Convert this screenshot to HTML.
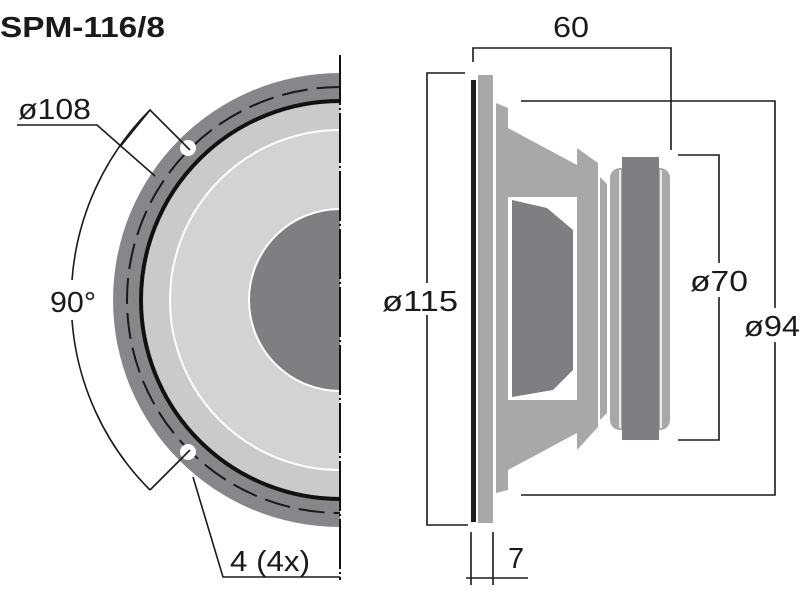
<!DOCTYPE html>
<html><head><meta charset="utf-8"><style>
html,body{margin:0;padding:0;background:#fff;}
svg{display:block;}
text{font-family:"Liberation Sans",sans-serif;fill:#1a1a1a;}
</style></head><body>
<svg width="800" height="600" viewBox="0 0 800 600" xmlns="http://www.w3.org/2000/svg">
<defs><clipPath id="lh"><rect x="0" y="0" width="340" height="600"/></clipPath></defs>
<text x="0" y="37" font-size="29" font-weight="bold" textLength="165" lengthAdjust="spacingAndGlyphs">SPM-116/8</text>
<g clip-path="url(#lh)">
<circle cx="340" cy="300" r="227" fill="#86878a"/>
<circle cx="340" cy="300" r="213" fill="none" stroke="#1a1a1a" stroke-width="2" stroke-dasharray="26,9"/>
<circle cx="340" cy="300" r="199" fill="#c9cacc" stroke="#111" stroke-width="4"/>
<circle cx="340" cy="300" r="170" fill="#d2d3d5" stroke="#fff" stroke-width="2"/>
<circle cx="340" cy="300" r="91" fill="#7e7f82" stroke="#fff" stroke-width="2"/>
</g>
<line x1="340" y1="55" x2="340" y2="580" stroke="#111" stroke-width="2" stroke-dasharray="50,3,2,3"/>
<circle cx="188" cy="148" r="8" fill="#fff"/>
<circle cx="188" cy="452" r="8" fill="#fff"/>
<g fill="none" stroke="#1a1a1a" stroke-width="1.6">
<path d="M190,150 L150,110 L120,147"/>
<path d="M190,450 L150,490"/>
<path d="M150,110 A269,269 0 0 0 72,280"/>
<path d="M72,320 A269,269 0 0 0 150,490"/>
<path d="M17,125 L97,125 L155,176"/>
<path d="M193,477 L223,577 L340,577"/>
<path d="M473,62 L473,48 L671,48 L671,150"/>
<path d="M465,73 L427,73 L427,525 L468,525"/>
<path d="M521,101 L775,101 L775,495 L521,495"/>
<path d="M678,155 L719,155 L719,440 L678,440"/>
<path d="M471,532 L471,585 M493,532 L493,585 M466,578 L528,578"/>
</g>
<text x="18" y="119" font-size="29" textLength="73" lengthAdjust="spacingAndGlyphs">ø108</text>
<text x="50" y="312" font-size="29" textLength="46" lengthAdjust="spacingAndGlyphs">90°</text>
<text x="230" y="571" font-size="29" textLength="80" lengthAdjust="spacingAndGlyphs">4 (4x)</text>
<text x="553" y="37" font-size="29" textLength="36" lengthAdjust="spacingAndGlyphs">60</text>
<rect x="380" y="283" width="82" height="32" fill="#fff"/>
<text x="382" y="311" font-size="29" textLength="76" lengthAdjust="spacingAndGlyphs">ø115</text>
<rect x="688" y="263" width="62" height="34" fill="#fff"/>
<text x="690" y="291" font-size="29" textLength="58" lengthAdjust="spacingAndGlyphs">ø70</text>
<rect x="742" y="308" width="58" height="34" fill="#fff"/>
<text x="744" y="336" font-size="29" textLength="56" lengthAdjust="spacingAndGlyphs">ø94</text>
<text x="508" y="568" font-size="29">7</text>
<rect x="471" y="80" width="5" height="442" fill="#1e1e1e"/>
<rect x="478" y="75" width="15" height="448" fill="#a7a8aa"/>
<polygon points="496,103 508,108 508,128 577,165 577,148 598,163 598,427 577,450 577,433 508,470 508,490 496,493" fill="#a7a8aa"/>
<rect x="508" y="197" width="69" height="203" fill="#fff"/>
<polygon points="512,200 547,208 573,230 573,370 553,390 512,397" fill="#7e7f82"/>
<polygon points="600,177 607,184 607,413 600,420" fill="#a7a8aa"/>
<rect x="610" y="168" width="60" height="262" rx="10" fill="#a7a8aa"/>
<line x1="620" y1="170" x2="620" y2="428" stroke="#fff" stroke-width="1.5"/>
<line x1="661" y1="170" x2="661" y2="428" stroke="#fff" stroke-width="1.5"/>
<rect x="622" y="157" width="37" height="283" fill="#7e7f82"/>
</svg>
</body></html>
